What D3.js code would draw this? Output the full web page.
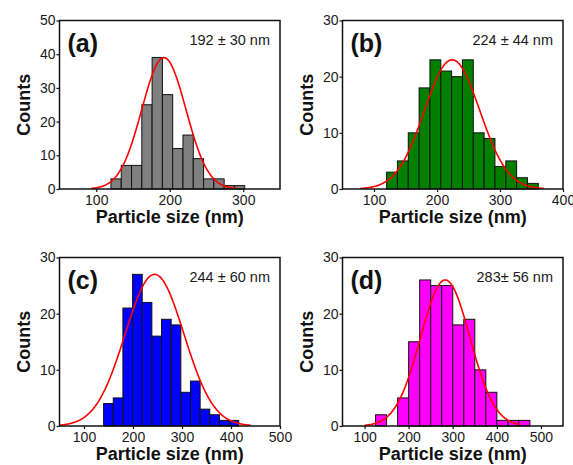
<!DOCTYPE html>
<html>
<head>
<meta charset="utf-8">
<script src="https://cdn.jsdelivr.net/npm/d3@7"></script>
<style>
  body { margin: 0; background: #fff; }
  text { font-family: "Liberation Sans", Arial, sans-serif; }
</style>
</head>
<body>
<div id="chart"></div>
<script>
// histogram data
const panelLabels = ["(a)", "(b)", "(c)", "(d)"];
const sizeLabels = ["192 ± 30 nm", "224 ± 44 nm", "244 ± 60 nm", "283± 56 nm"];
const binStarts = [120, 120, 140, 125];
const binWidths = [14, 17.2, 19.7, 25];
const countsA = [3, 7, 7, 25, 39, 28, 12, 16, 9, 3, 3, 1, 1];
const countsB = [3, 5, 10, 18, 23, 21, 20, 23, 10, 9, 4, 5, 2, 1];
const countsC = [4, 5, 21, 27, 22, 16, 19, 18, 6, 8, 3, 2, 1, 1];
const countsD = [2, 0, 5, 15, 26, 25, 25, 18, 19, 10, 6, 1, 1, 1];
const xDomains = [[50, 350], [50, 400], [50, 500], [50, 550]];
const xTicks = [[100, 200, 300], [100, 200, 300, 400], [100, 200, 300, 400, 500], [100, 200, 300, 400, 500]];
const yMaxes = [50, 30, 30, 30];
const yTicks = [[0, 10, 20, 30, 40, 50], [0, 10, 20, 30], [0, 10, 20, 30], [0, 10, 20, 30]];
// gaussian fit parameters
const fitMeans = [192, 224, 244, 283];
const fitSds = [30, 44, 60, 56];
const fitPeaks = [39, 23, 27, 26];
const fitRanges = [[93, 293], [78, 370], [50, 440], [100, 452]];

const barColors = ["#808080", "#008000", "#0000ff", "#ff00ff"];
const allCounts = [countsA, countsB, countsC, countsD];

const svgWidth = 573, svgHeight = 465;
const plotW = 220.5, plotH = 168.5;
const origins = [[59.5, 20.5], [342.5, 20.5], [59.5, 257.5], [342.5, 257.5]];

const svg = d3.select("#chart")
  .append("svg")
  .attr("width", svgWidth)
  .attr("height", svgHeight);

const drawPanel = i => {
  const [ox, oy] = origins[i];
  const g = svg.append("g").attr("transform", `translate(${ox},${oy})`);

  const xScale = d3.scaleLinear().domain(xDomains[i]).range([0, plotW]);
  const yScale = d3.scaleLinear().domain([0, yMaxes[i]]).range([plotH, 0]);

  g.append("clipPath").attr("id", "clip" + i)
    .append("rect").attr("width", plotW).attr("height", plotH);

  const bins = allCounts[i].map((c, k) => ({
    x0: binStarts[i] + k * binWidths[i],
    x1: binStarts[i] + (k + 1) * binWidths[i],
    count: c
  })).filter(b => b.count > 0);

  g.selectAll("rect.bar").data(bins).enter().append("rect")
    .attr("class", "bar")
    .attr("x", b => xScale(b.x0))
    .attr("y", b => yScale(b.count))
    .attr("width", b => xScale(b.x1) - xScale(b.x0))
    .attr("height", b => plotH - yScale(b.count))
    .attr("fill", barColors[i])
    .attr("stroke", "#111")
    .attr("stroke-width", 1);

  // fit curve
  const [from, to] = fitRanges[i];
  const pts = d3.range(from, to + 0.5, 1).map(x => [
    x, fitPeaks[i] * Math.exp(-Math.pow(x - fitMeans[i], 2) / (2 * fitSds[i] * fitSds[i]))
  ]);
  const line = d3.line().x(d => xScale(d[0])).y(d => yScale(d[1])).curve(d3.curveBasis);
  g.append("path").datum(pts)
    .attr("d", line)
    .attr("fill", "none")
    .attr("stroke", "#ff0000")
    .attr("stroke-width", 1.6)
    .attr("clip-path", `url(#clip${i})`);

  const xAxis = g.append("g").attr("transform", `translate(0,${plotH})`)
    .call(d3.axisBottom(xScale).tickValues(xTicks[i]).tickSize(3).tickPadding(3));
  const yAxis = g.append("g")
    .call(d3.axisLeft(yScale).tickValues(yTicks[i]).tickSize(3).tickPadding(1));
  [xAxis, yAxis].forEach(ax => {
    ax.select(".domain").remove();
    ax.selectAll(".tick line").attr("stroke", "#111").attr("stroke-width", 1.2);
    ax.selectAll(".tick text")
      .attr("font-size", 14)
      .attr("fill", "#1a1a1a")
      .style("font-family", "'Liberation Sans', Arial, sans-serif");
  });

  g.append("rect")
    .attr("width", plotW).attr("height", plotH)
    .attr("fill", "none").attr("stroke", "#111").attr("stroke-width", 1.5);

  g.append("text")
    .attr("x", 8).attr("y", 31)
    .attr("font-size", 25).attr("font-weight", "bold").attr("fill", "#111")
    .text(panelLabels[i]);

  g.append("text")
    .attr("x", plotW - 10).attr("y", 24)
    .attr("text-anchor", "end")
    .attr("font-size", 14.5).attr("fill", "#1a1a1a")
    .text(sizeLabels[i]);

  g.append("text")
    .attr("x", plotW / 2).attr("y", plotH + 34)
    .attr("text-anchor", "middle")
    .attr("font-size", 18).attr("font-weight", "bold").attr("fill", "#111")
    .text("Particle size (nm)");

  g.append("text")
    .attr("transform", `translate(-30,${plotH / 2}) rotate(-90)`)
    .attr("text-anchor", "middle")
    .attr("font-size", 18).attr("font-weight", "bold").attr("fill", "#111")
    .text("Counts");
};

d3.range(4).forEach(drawPanel);
</script>
</body>
</html>
